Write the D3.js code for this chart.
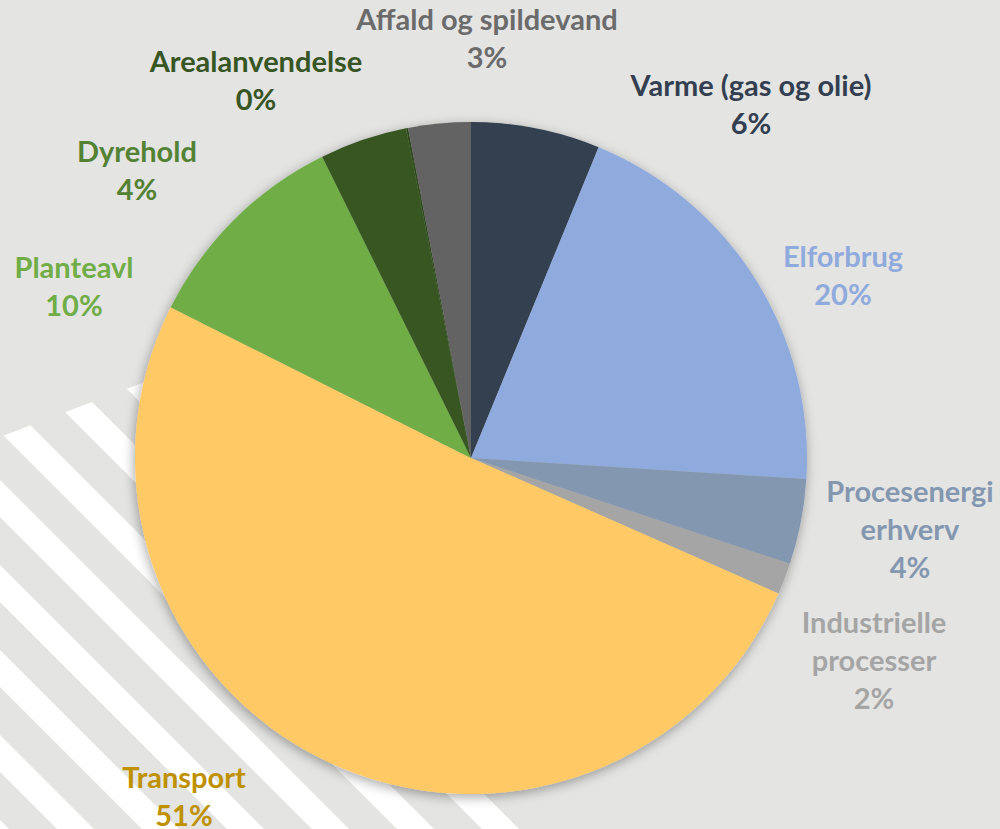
<!DOCTYPE html>
<html>
<head>
<meta charset="utf-8">
<script src="https://cdn.jsdelivr.net/npm/d3@7"></script>
<style>
  html, body { margin: 0; padding: 0; background: #E4E4E3; }
  svg { display: block; }
  text { font-family: Lato, "Open Sans", sans-serif; font-weight: 700; }
</style>
</head>
<body>
<svg id="chart" width="1000" height="829"></svg>
<script>
// ---- data ----
const categories = ["Varme (gas og olie)", "Elforbrug", "Procesenergi erhverv", "Industrielle processer",
                    "Transport", "Planteavl", "Dyrehold", "Arealanvendelse", "Affald og spildevand"];
const values = [6.2, 19.8, 4.1, 1.5, 50.8, 10.3, 4.2, 0.1, 3.0];   // percent of total
const labelLines = [["Varme (gas og olie)"], ["Elforbrug"], ["Procesenergi", "erhverv"], ["Industrielle", "processer"],
                    ["Transport"], ["Planteavl"], ["Dyrehold"], ["Arealanvendelse"], ["Affald og spildevand"]];

// ---- styles / layout ----
const sliceColors = ["#333F50", "#8FAADC", "#8497B0", "#A5A5A5", "#FFCA66", "#70AD47", "#375623", "#2E4A1D", "#636363"];
const labelColors = ["#333F50", "#8FAADC", "#8497B0", "#A5A5A5", "#BF9000", "#70AD47", "#548235", "#375623", "#6B6B6B"];
// label anchor (centre x, centre y of first line)
const labelPos = [[751, 86], [843, 257], [910, 492], [874, 623], [184, 778], [74, 268], [137, 152], [256, 62], [487, 20]];
const cx = 471, cy = 458, R = 336;
const lineH = 38, fontSize = 29;

const svg = d3.select("#chart");
const defs = svg.append("defs");

// background
svg.append("rect").attr("width", 1000).attr("height", 829).attr("fill", "#E4E4E3");

// decorative white diagonal stripes (bottom-left)
defs.append("clipPath").attr("id", "stripeClip")
  .append("polygon").attr("points", "0,437 337,309 535,829 0,829");
const stripeG = svg.append("g").attr("clip-path", "url(#stripeClip)");
const period = 85, stripeW = 37;
const stripeStarts = d3.range(-12, 3).map(k => -432 + period * k);
stripeG.selectAll("polygon").data(stripeStarts).join("polygon")
  .attr("points", c => {
    const y0 = 200, y1 = 900;
    return [[c + y0, y0], [c + stripeW + y0, y0], [c + stripeW + y1, y1], [c + y1, y1]].map(p => p.join(",")).join(" ");
  })
  .attr("fill", "#FFFFFF");

// shadow filter
const f = defs.append("filter").attr("id", "shadow").attr("x", "-20%").attr("y", "-20%").attr("width", "140%").attr("height", "140%");
f.append("feDropShadow").attr("dx", -1).attr("dy", 3).attr("stdDeviation", 6)
  .attr("flood-color", "#000").attr("flood-opacity", 0.35);

// pie
const data = categories.map((c, i) => ({ name: c, value: values[i], i }));
const pie = d3.pie().sort(null).value(d => d.value).startAngle(0).endAngle(2 * Math.PI);
const arc = d3.arc().innerRadius(0).outerRadius(R);
const g = svg.append("g").attr("transform", `translate(${cx},${cy})`).attr("filter", "url(#shadow)");
g.selectAll("path").data(pie(data)).join("path")
  .attr("d", arc)
  .attr("fill", d => sliceColors[d.data.i]);

// labels
const lg = svg.append("g");
data.forEach((d, i) => {
  const lines = labelLines[i].concat([Math.round(d.value) + "%"]);
  const t = lg.append("text")
    .attr("text-anchor", "middle")
    .attr("fill", labelColors[i])
    .style("font-size", fontSize + "px");
  lines.forEach((ln, j) => {
    t.append("tspan")
      .attr("x", labelPos[i][0])
      .attr("y", labelPos[i][1] + j * lineH)
      .attr("dy", "0.35em")
      .text(ln);
  });
});
</script>
</body>
</html>
